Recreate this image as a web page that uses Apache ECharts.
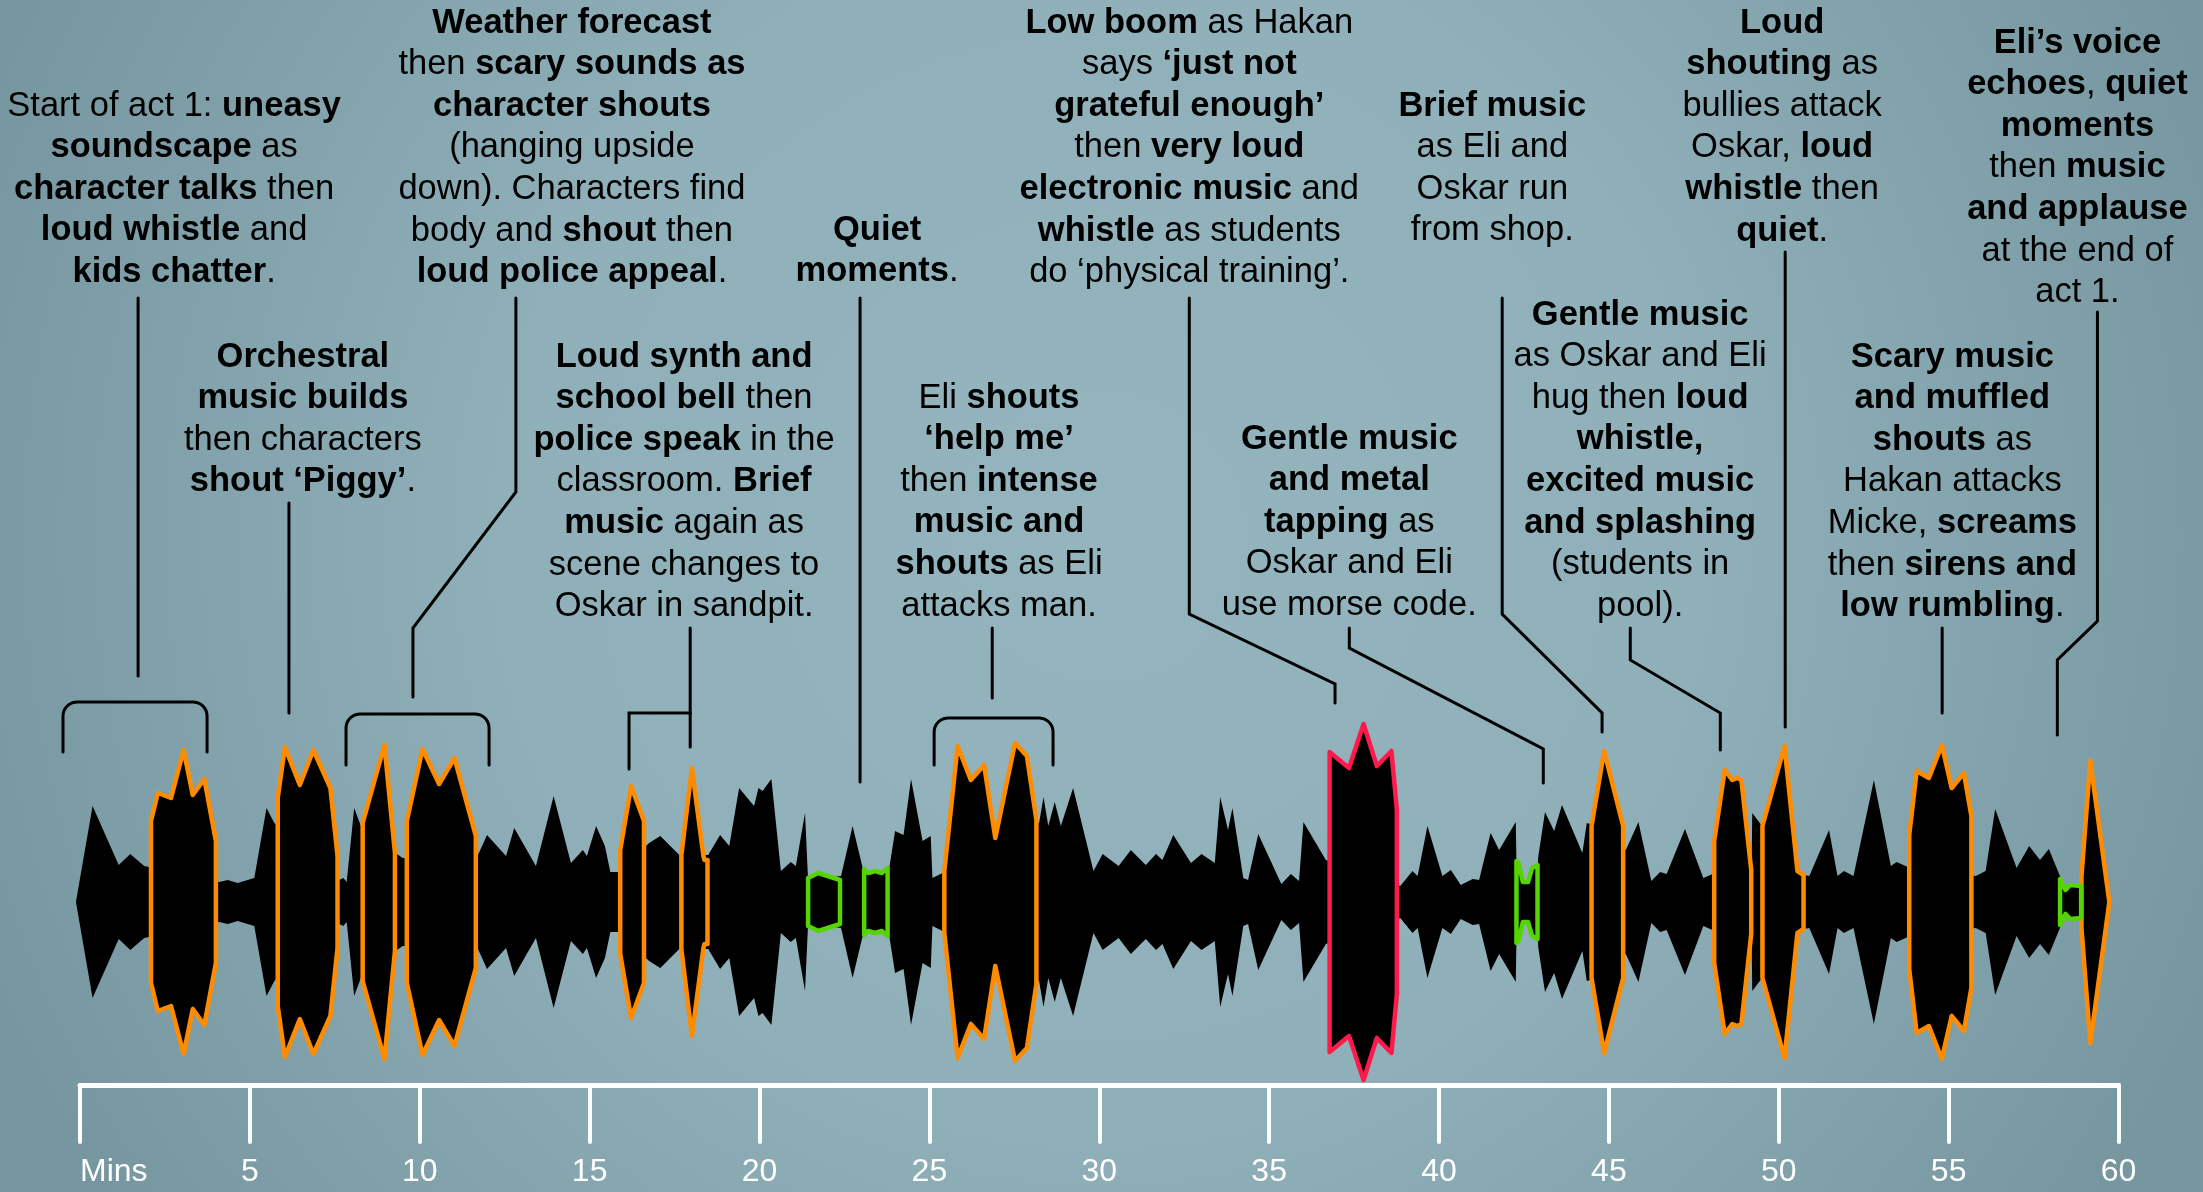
<!DOCTYPE html>
<html><head><meta charset="utf-8">
<script src="https://cdn.jsdelivr.net/npm/echarts@6/dist/echarts.min.js"></script>
<style>html,body{margin:0;padding:0;background:#8fafb8;overflow:hidden}#c{width:2203px;height:1192px}</style>
</head><body><div id="c"></div>
<script>
// ---------------- DATA ----------------
const tickLabels = ['Mins','5','10','15','20','25','30','35','40','45','50','55','60'];

// base sound wave: [minute, amplitude]
const wave = [
[-0.12,0],[0.37,96],[1.14,37],[1.48,48],[1.89,36],
[4.1,20],[4.35,22],[4.64,19],[5.13,24],[5.49,94],[5.72,79],
[7.63,22],[7.75,24],[7.85,20],[8.07,94],[8.3,73],
[9.37,47],[9.5,44],
[11.7,46],[11.98,67],[12.54,46],[12.78,74],[13.42,36],[13.94,106],[14.45,39],[14.8,52],[14.92,46],[15.19,76],[15.45,56],[15.61,30],[15.85,30],
[16.75,59],[17.08,66],[17.64,47],
[18.49,47],[18.84,67],[19.11,56],[19.4,114],[19.84,96],[19.97,114],[20.09,111],[20.35,123],[20.63,31],[20.92,40],[21.07,36],[21.34,89],[21.43,22],
[22.4,26],[22.74,76],[23.08,28],[23.1,24],[23.75,24],[23.82,34],[23.99,71],[24.24,67],[24.46,123],[24.8,61],[25.04,66],[25.09,24],[25.39,29],
[28.23,79],[28.36,105],[28.5,76],[28.69,100],[28.87,76],[29.23,114],[29.83,31],[30.1,48],[30.57,36],[30.93,52],[31.37,37],[31.67,48],[31.86,42],[32.18,67],[32.7,39],[33.01,48],[33.4,39],[33.56,105],[33.79,72],[33.92,94],[34.24,24],[34.38,22],[34.68,68],[35.36,18],[35.64,28],[35.88,21],[36.01,80],[36.67,42],
[38.86,16],[39.22,31],[39.37,26],[39.66,76],[40.1,26],[40.35,32],[40.64,17],[40.99,23],[41.18,22],[41.52,69],[41.77,52],[42.26,80],[42.29,15],[42.88,15],[42.92,45],[43.12,90],[43.39,71],[43.62,97],[44.22,49],[44.35,79],[44.45,78],
[45.5,52],[45.87,80],[46.25,21],[46.51,30],[46.7,28],[47.24,73],[47.78,24],[48.05,28],
[49.2,28],[49.22,89],[49.51,76],
[50.74,27],[50.9,26],[51.48,72],[51.73,26],[51.92,31],[52.2,26],[52.8,122],[53.3,36],[53.47,40],[53.8,35],
[55.8,26],[56.09,31],[56.37,93],[57.0,34],[57.37,56],[57.69,42],[57.95,53],[58.3,24],[58.32,10],[58.88,10],[58.95,0]
];

// highlighted moments (upper profile, mirrored below)
const orangeSegments = [
[[2.09,81],[2.29,109],[2.68,104],[3.05,152],[3.32,107],[3.66,123],[4.0,61]],
[[5.82,104],[6.03,155],[6.47,117],[6.87,152],[7.37,114],[7.58,46]],
[[8.32,79],[8.96,157],[9.27,49]],
[[9.62,81],[10.08,153],[10.57,118],[11.02,144],[11.65,66]],
[[15.9,52],[16.22,116],[16.6,81]],
[[17.7,47],[18.01,134],[18.35,46],[18.38,42],[18.47,42]],
[[25.44,31],[25.83,156],[26.22,122],[26.61,137],[26.94,64],[27.52,159],[27.87,146],[28.15,82]],
[[44.49,76],[44.86,151],[45.42,76]],
[[48.1,61],[48.41,132],[48.63,122],[48.78,124],[48.9,122],[49.19,32]],
[[49.52,76],[50.17,156],[50.55,31],[50.73,27]],
[[53.84,67],[54.06,131],[54.42,124],[54.8,157],[55.09,114],[55.45,129],[55.67,86]],
[[58.91,26],[59.17,141],[59.73,0]]
];
const greenSegments = [
[[21.43,24],[21.73,29],[22.37,22]],
[[23.08,33],[23.2,29],[23.4,31],[23.6,29],[23.77,34]],
[[42.28,41],[42.34,39],[42.47,20],[42.62,20],[42.74,34],[42.9,37]],
[[58.28,23],[58.44,12],[58.58,17],[58.9,16]]
];
const redSegments = [
[[36.78,150],[37.35,134],[37.78,178],[38.17,136],[38.6,151],[38.76,92]]
];

const annotationTexts = [
'Start of act 1: {b|uneasy}\n{b|soundscape} as\n{b|character talks} then\n{b|loud whistle} and\n{b|kids chatter}.',
'{b|Orchestral}\n{b|music builds}\nthen characters\n{b|shout ‘Piggy’}.',
'{b|Weather forecast}\nthen {b|scary sounds as}\n{b|character shouts}\n(hanging upside\ndown). Characters find\nbody and {b|shout} then\n{b|loud police appeal}.',
'{b|Loud synth and}\n{b|school bell} then\n{b|police speak} in the\nclassroom. {b|Brief}\n{b|music} again as\nscene changes to\nOskar in sandpit.',
'{b|Quiet}\n{b|moments}.',
'Eli {b|shouts}\n{b|‘help me’}\nthen {b|intense}\n{b|music and}\n{b|shouts} as Eli\nattacks man.',
'{b|Low boom} as Hakan\nsays {b|‘just not}\n{b|grateful enough’}\nthen {b|very loud}\n{b|electronic music} and\n{b|whistle} as students\ndo ‘physical training’.',
'{b|Gentle music}\n{b|and metal}\n{b|tapping} as\nOskar and Eli\nuse morse code.',
'{b|Brief music}\nas Eli and\nOskar run\nfrom shop.',
'{b|Loud}\n{b|shouting} as\nbullies attack\nOskar, {b|loud}\n{b|whistle} then\n{b|quiet}.',
'{b|Gentle music}\nas Oskar and Eli\nhug then {b|loud}\n{b|whistle,}\n{b|excited music}\n{b|and splashing}\n(students in\npool).',
'{b|Scary music}\n{b|and muffled}\n{b|shouts} as\nHakan attacks\nMicke, {b|screams}\nthen {b|sirens and}\n{b|low rumbling}.',
'{b|Eli’s voice}\n{b|echoes}, {b|quiet}\n{b|moments}\nthen {b|music}\n{b|and applause}\nat the end of\nact 1.'
];

// ---------------- LAYOUT (positions: minute for x, pixel for y) ----------------
const annotationLayout = [
{t:2.77,y:106},{t:6.56,y:357},{t:14.48,y:23},{t:17.78,y:357},{t:23.46,y:230},{t:27.05,y:398},
{t:32.65,y:23},{t:37.36,y:439},{t:41.57,y:106},{t:50.1,y:23},{t:45.92,y:315},{t:55.11,y:357},{t:58.79,y:43}
];
const leaderLayout = [
[[1.71,298],[1.71,676]],
[[6.15,503],[6.15,713]],
[[12.83,298],[12.83,492],[9.80,628],[9.80,697]],
[[17.96,628],[17.96,747]],
[[16.16,769],[16.16,713],[17.96,713]],
[[22.96,298],[22.96,782]],
[[26.85,628],[26.85,698]],
[[32.65,298],[32.65,614],[36.94,684],[36.94,703]],
[[37.36,628],[37.36,648],[43.07,749],[43.07,783]],
[[41.86,298],[41.86,614],[44.8,713],[44.8,732]],
[[50.19,252],[50.19,727]],
[[45.63,628],[45.63,660],[48.28,713],[48.28,750]],
[[54.81,628],[54.81,713]],
[[59.38,312],[59.38,621],[58.2,660],[58.2,735]]
];
const bracketLayout = [
{t1:-0.5,t2:3.74,top:702,bottom:752},
{t1:7.83,t2:12.04,top:714,bottom:765},
{t1:25.14,t2:28.64,top:718,bottom:765}
];

// ---------------- CHART ----------------
const FONT = 'Liberation Sans, Arial, sans-serif';
const chart = echarts.init(document.getElementById('c'), null, {renderer:'canvas', width:2203, height:1192});

function shapePoints(api, pts) {
  const up = pts.map(p => api.coord([p[0], p[1]]));
  const down = pts.slice().reverse().map(p => api.coord([p[0], -p[1]]));
  return up.concat(down);
}
function segSeries(name, segs, color, z) {
  return {
    type:'custom', name, z, clip:false, silent:true,
    data: segs.map(s => [s[0][0], s[s.length-1][0]]),
    encode:{x:[0,1]},
    renderItem: (params, api) => ({
      type:'polygon',
      shape:{points: shapePoints(api, segs[params.dataIndex])},
      style:{fill:'#000', stroke:color, lineWidth:4.5, lineJoin:'round'}
    })
  };
}

chart.setOption({
  backgroundColor: new echarts.graphic.RadialGradient(0.5, 0.45, 1.0, [
    {offset:0, color:'#95b5be'},{offset:0.5, color:'#90b0b9'},{offset:1, color:'#7797a0'}
  ]),
  animation:false,
  textStyle:{fontFamily:FONT},
  grid:{left:80, right:84.5, top:719, bottom:107, outerBoundsMode:'none', containLabel:false},
  xAxis:{
    type:'value', min:0, max:60, interval:5,
    axisLine:{show:true, onZero:false, lineStyle:{color:'#fff', width:5, cap:'round'}},
    axisTick:{show:true, length:57, lineStyle:{color:'#fff', width:4, cap:'round'}},
    axisLabel:{color:'#fff', fontSize:32, fontFamily:FONT, margin:71, lineHeight:32,
      alignMinLabel:'left', formatter:(v)=>tickLabels[Math.round(v/5)]},
    splitLine:{show:false}
  },
  yAxis:{type:'value', min:-183, max:183, show:false},
  series:[
    {
      type:'custom', name:'wave', z:2, clip:false, silent:true,
      data:[[wave[0][0], wave[wave.length-1][0]]],
      encode:{x:[0,1]},
      renderItem:(params, api) => ({
        type:'polygon', shape:{points: shapePoints(api, wave)},
        style:{fill:'#000', stroke:null}
      })
    },
    segSeries('loud', orangeSegments, '#ff8c00', 3),
    segSeries('quiet', greenSegments, '#55d400', 3),
    segSeries('loudest', redSegments, '#ff1a4b', 3)
  ]
});

const px = t => chart.convertToPixel({xAxisIndex:0}, t);
const graphics = [];
annotationTexts.forEach((txt, i) => {
  const L = annotationLayout[i];
  graphics.push({
    type:'text', silent:true, z:10, x: px(L.t), y: L.y - 20.8,
    style:{text:txt, align:'center', verticalAlign:'top', fontSize:34.5, fontFamily:FONT,
      lineHeight:41.6, fill:'#000',
      rich:{b:{fontWeight:'bold', fontSize:34.5, fontFamily:FONT, lineHeight:41.6, fill:'#000'}}}
  });
});
leaderLayout.forEach(pts => {
  graphics.push({type:'polyline', silent:true, z:10,
    shape:{points: pts.map(p => [px(p[0]), p[1]])},
    style:{stroke:'#000', lineWidth:3, fill:null, lineCap:'round', lineJoin:'miter'}});
});
bracketLayout.forEach(b => {
  const x1 = px(b.t1), x2 = px(b.t2), yt = b.top, yb = b.bottom, r = 14;
  const pts = [[x1, yb]];
  for (let i = 0; i <= 10; i++) { const a = Math.PI + (i/10)*Math.PI/2; pts.push([x1 + r + r*Math.cos(a), yt + r + r*Math.sin(a)]); }
  for (let i = 0; i <= 10; i++) { const a = 1.5*Math.PI + (i/10)*Math.PI/2; pts.push([x2 - r + r*Math.cos(a), yt + r + r*Math.sin(a)]); }
  pts.push([x2, yb]);
  graphics.push({type:'polyline', silent:true, z:10, shape:{points:pts},
    style:{stroke:'#000', lineWidth:3, fill:null, lineCap:'round', lineJoin:'round'}});
});
chart.setOption({graphic: graphics});
</script>
</body></html>
